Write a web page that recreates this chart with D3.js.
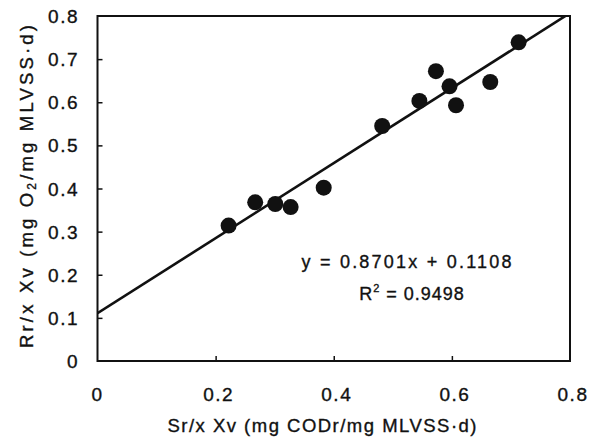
<!DOCTYPE html>
<html><head><meta charset="utf-8">
<script src="https://cdn.jsdelivr.net/npm/d3@7"></script>
<style>body{margin:0;background:#fff}svg{display:block}text{font-family:"Liberation Sans",Arial,sans-serif;fill:#111;stroke:#111;stroke-width:0.35px}</style>
</head><body><svg id="c" width="596" height="441"></svg>
<script>
const xVals = [0.222, 0.267, 0.301, 0.327, 0.383, 0.482, 0.545, 0.573, 0.596, 0.607, 0.665, 0.713];
const yVals = [0.314, 0.368, 0.364, 0.357, 0.402, 0.545, 0.603, 0.672, 0.637, 0.593, 0.647, 0.739];
const slope = 0.8701, intercept = 0.1108, r2 = 0.9498;
const xTicks = [0, 0.2, 0.4, 0.6, 0.8];
const yTicks = [0, 0.1, 0.2, 0.3, 0.4, 0.5, 0.6, 0.7, 0.8];
const xTitle = "Sr/x Xv (mg CODr/mg MLVSS·d)";

const svg = d3.select("#c");
const x = d3.scaleLinear().domain([0, 0.8]).range([97.5, 570]);
const y = d3.scaleLinear().domain([0, 0.8]).range([361, 16]);
const L = x.range()[0], R = x.range()[1], T = y.range()[1], B = y.range()[0];

svg.append("clipPath").attr("id","clip").append("rect").attr("x",L).attr("y",T).attr("width",R-L).attr("height",B-T);

// inner ticks
const xAxis = d3.axisBottom(x).tickValues(xTicks.slice(1,-1)).tickSize(-5).tickFormat("");
const gx = svg.append("g").attr("transform",`translate(0,${B})`).call(xAxis);
gx.select(".domain").remove();
gx.selectAll("line").attr("stroke","#111").attr("stroke-width",1.5);
const yAxis = d3.axisLeft(y).tickValues(yTicks.slice(1,-1)).tickSize(-5).tickFormat("");
const gy = svg.append("g").attr("transform",`translate(${L},0)`).call(yAxis);
gy.select(".domain").remove();
gy.selectAll("line").attr("stroke","#111").attr("stroke-width",1.5);

// frame
svg.append("rect").attr("x",L).attr("y",T).attr("width",R-L).attr("height",B-T)
  .attr("fill","none").attr("stroke","#111").attr("stroke-width",2);

// tick labels
svg.append("g").selectAll("text").data(xTicks).join("text")
  .attr("x",d=>x(d)+ (d===0?0:3)).attr("y",401).attr("text-anchor","middle")
  .attr("font-size",19).attr("letter-spacing",1.5)
  .text(d=>d===0?"0":d3.format(".1f")(d));
svg.append("g").selectAll("text").data(yTicks).join("text")
  .attr("x",79).attr("y",d=>y(d)+7).attr("text-anchor","end")
  .attr("font-size",19).attr("letter-spacing",1.5)
  .text(d=>d===0?"0":d3.format(".1f")(d));

// regression line
const line = d3.line().x(d=>x(d)).y(d=>y(slope*d+intercept));
svg.append("path").datum([0, 0.8]).attr("d",line).attr("clip-path","url(#clip)")
  .attr("fill","none").attr("stroke","#111").attr("stroke-width",2.6);

// points
svg.append("g").selectAll("circle").data(xVals.map((v,i)=>[v,yVals[i]])).join("circle")
  .attr("cx",d=>x(d[0])).attr("cy",d=>y(d[1])).attr("r",8).attr("fill","#111");

// equation
svg.append("text").attr("x",406.5).attr("y",268).attr("text-anchor","middle")
  .attr("font-size",18).attr("textLength",210).attr("lengthAdjust","spacing")
  .text(`y = ${slope}x  + ${intercept}`);
const rt = svg.append("text").attr("x",412).attr("y",300).attr("text-anchor","middle").attr("font-size",18).attr("letter-spacing",1);
rt.append("tspan").text("R");
rt.append("tspan").attr("font-size",11).attr("dy",-8).text("2");
rt.append("tspan").attr("dy",8).text(` = ${r2}`);

// axis titles
svg.append("text").attr("x",322).attr("y",432).attr("text-anchor","middle")
  .attr("font-size",18.5).attr("textLength",309).attr("lengthAdjust","spacing").text(xTitle);
const yt = svg.append("text").attr("transform","translate(33,186.5) rotate(-90)")
  .attr("text-anchor","middle").attr("font-size",18.5).attr("textLength",323).attr("lengthAdjust","spacing");
yt.append("tspan").text("Rr/x Xv (mg O");
yt.append("tspan").attr("font-size",12).attr("dy",3).text("2");
yt.append("tspan").attr("dy",-3).text("/mg MLVSS·d)");
</script></body></html>
